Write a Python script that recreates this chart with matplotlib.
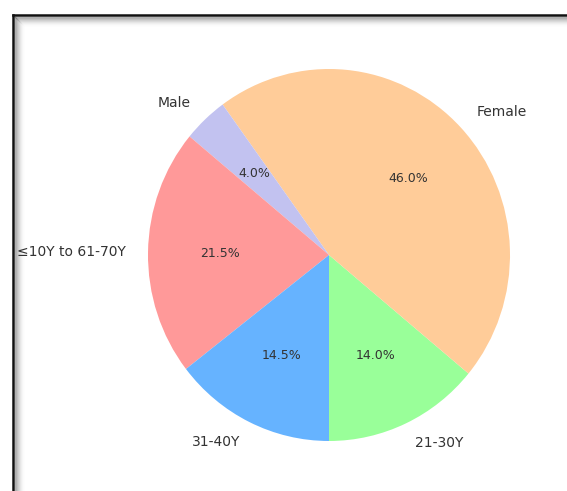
import matplotlib.pyplot as plt

# data
labels = ["21-30Y", "Female", "Male", "≤10Y to 61-70Y", "31-40Y"]
sizes = [14.0, 46.0, 4.0, 21.5, 14.5]
colors = ["#99ff99", "#ffcc99", "#c2c2f0", "#ff9999", "#66b3ff"]

W, H = 567, 491
fig = plt.figure(figsize=(W / 100, H / 100), dpi=100)
fig.patch.set_facecolor("white")

# screenshot frame: black line on top and left with a soft grey shadow
bg = fig.add_axes([0, 0, 1, 1])
bg.set_xlim(0, W)
bg.set_ylim(H, 0)
bg.axis("off")
x0, y0 = 12.5, 14.5
for i in range(10):
    a = 0.28 * (1 - i / 10) ** 2
    bg.plot([x0 + 2 + i, x0 + 2 + i], [y0 + 2 + i, H], color="black", alpha=a, lw=1)
    bg.plot([x0 + 2 + i, W], [y0 + 2 + i, y0 + 2 + i], color="black", alpha=a, lw=1)
bg.plot([x0, x0], [y0, H], color="#111111", lw=1.8)
bg.plot([x0, W], [y0, y0], color="#111111", lw=1.8)

# pie axes (screenshot is slightly stretched vertically)
cx, cy, rx, ry = 329, 255, 181, 186
ax = fig.add_axes([(cx - rx) / W, (H - cy - ry) / H, 2 * rx / W, 2 * ry / H])
wedges, texts, autotexts = ax.pie(sizes, labels=labels, colors=colors, autopct="%1.1f%%",
                                  startangle=-90, labeldistance=1.12,
                                  textprops={"fontsize": 10, "color": "#333333"})
for t in autotexts:
    t.set_fontsize(9)
ax.set_xlim(-1, 1)
ax.set_ylim(-1, 1)
ax.set_aspect("auto")

fig.savefig("out.png", dpi=100)
